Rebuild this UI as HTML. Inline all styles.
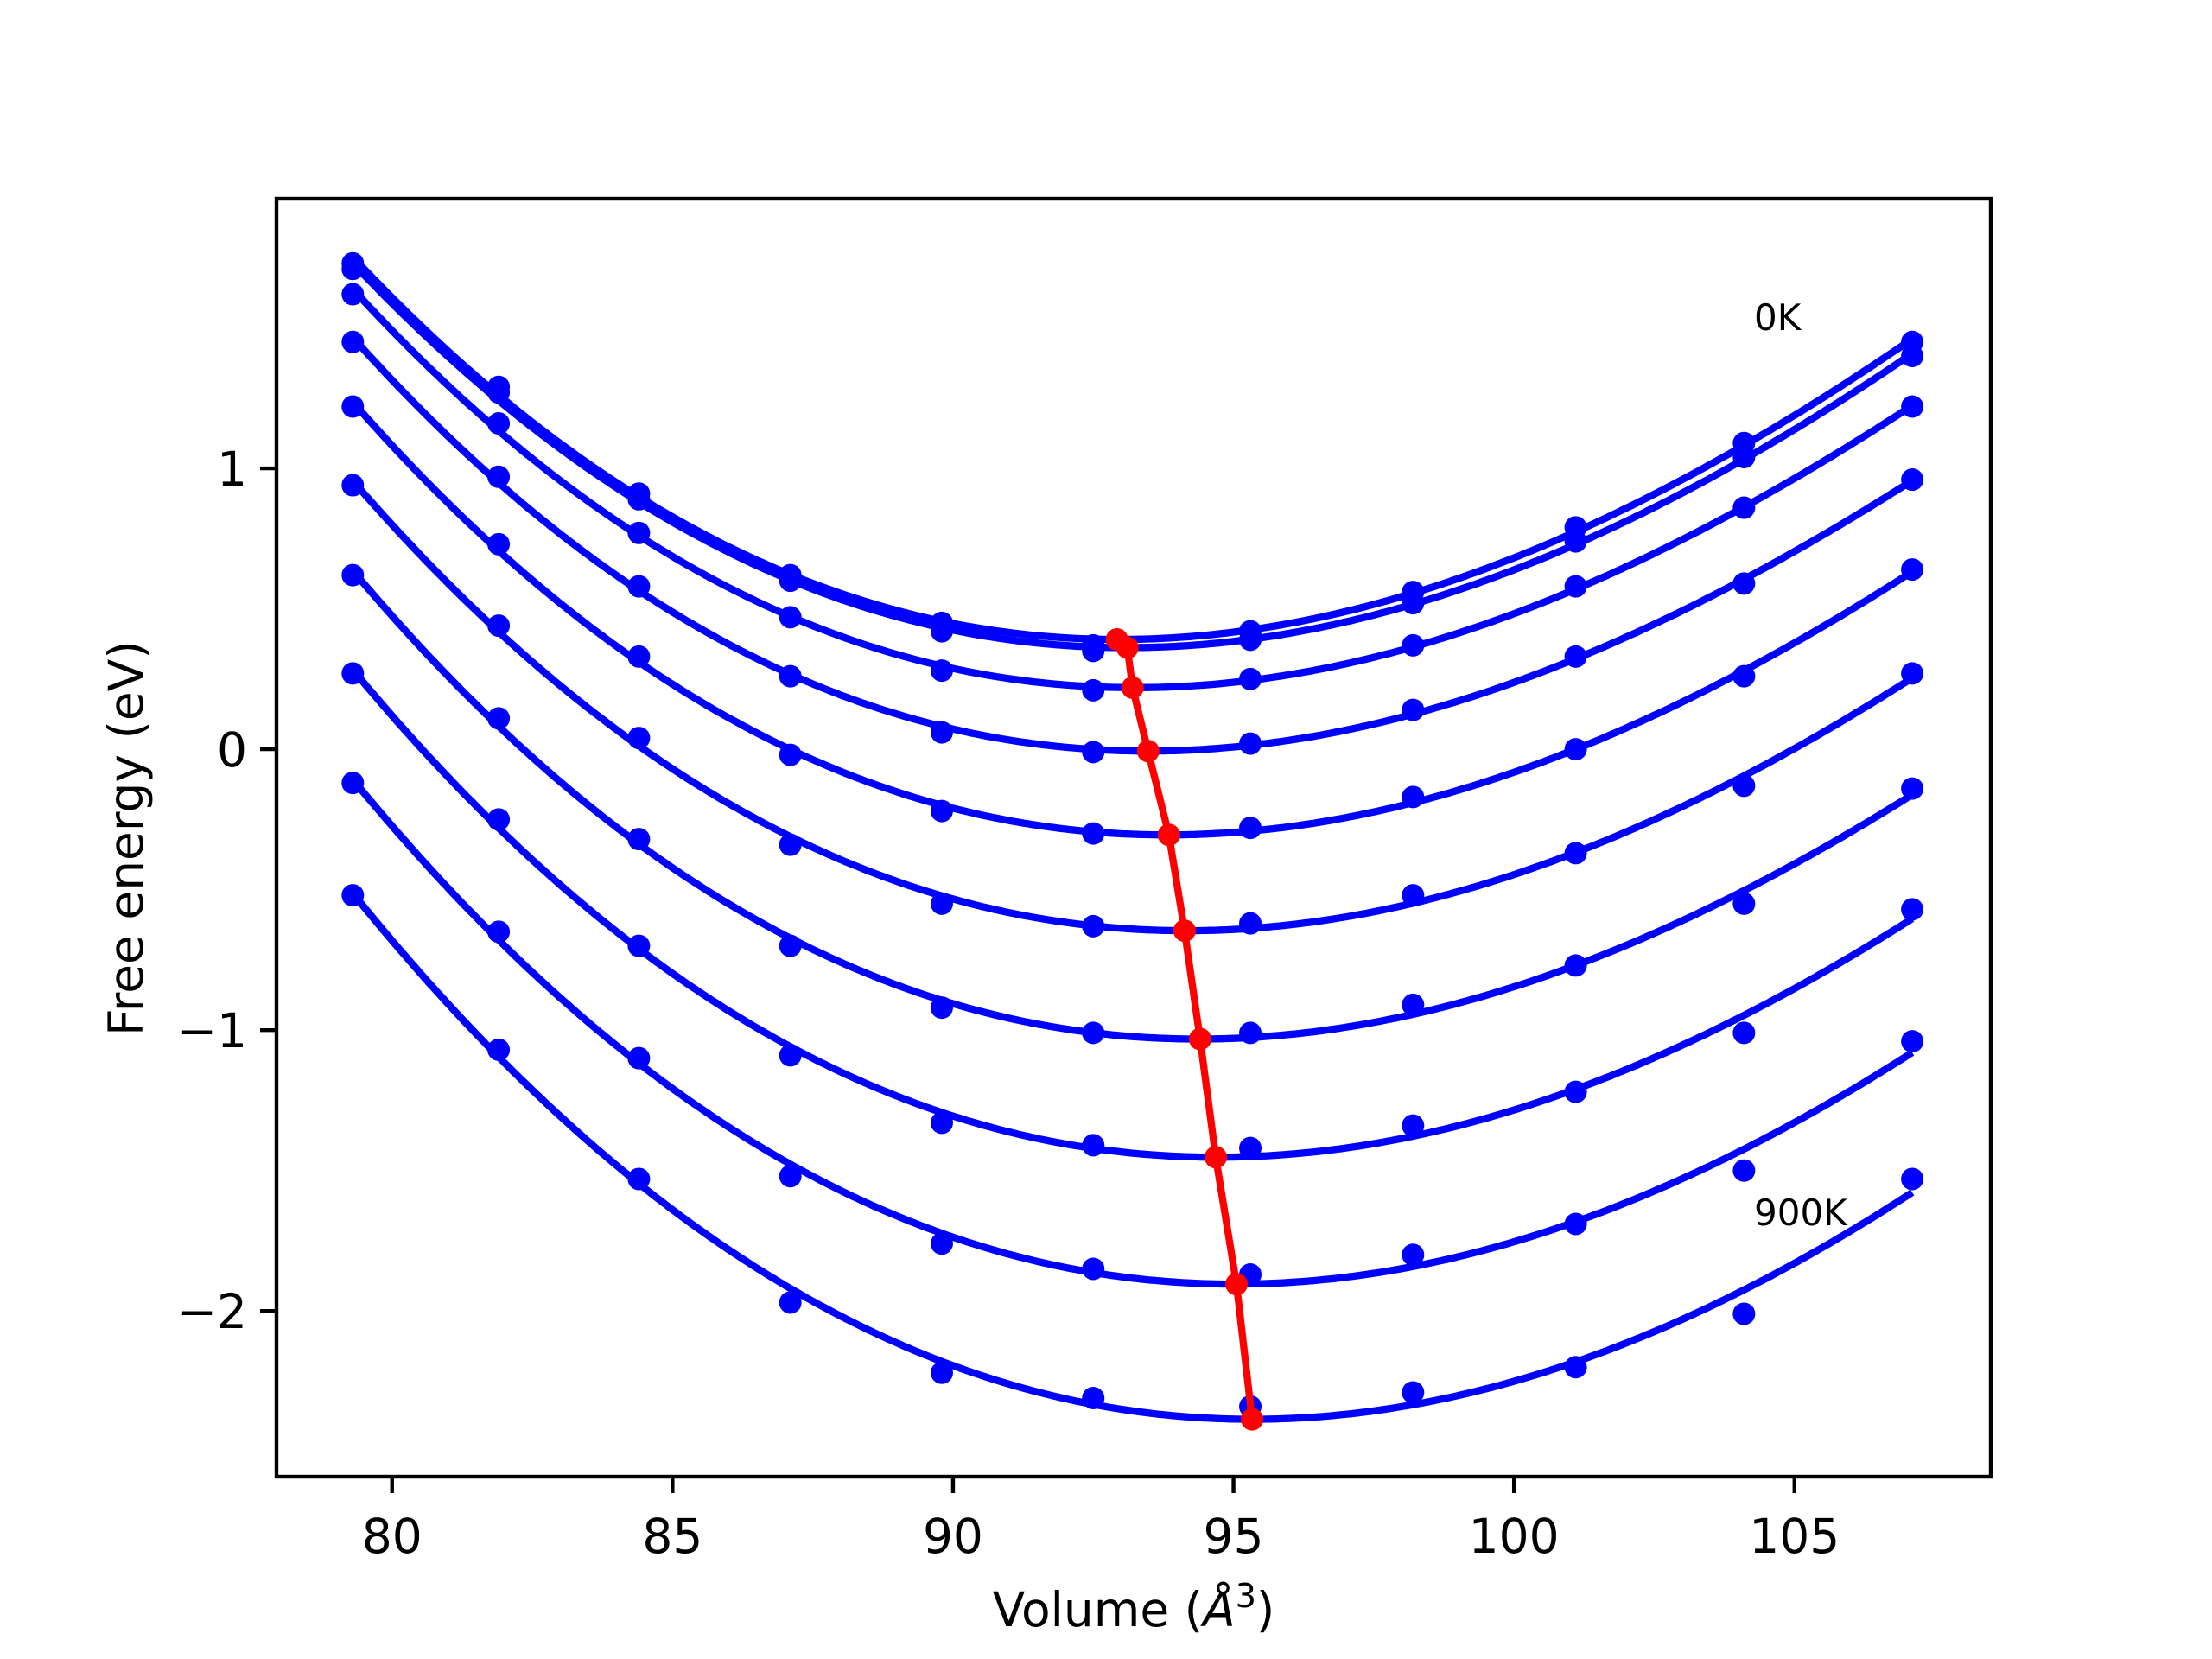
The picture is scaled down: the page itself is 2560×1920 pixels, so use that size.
<!DOCTYPE html>
<html><head><meta charset="utf-8"><style>
html,body{margin:0;padding:0;background:#fff;}
svg{display:block;font-family:"DejaVu Sans","Liberation Sans",sans-serif;}
</style></head><body>
<svg id="chart" width="2560" height="1920" viewBox="0 0 2560 1920" xmlns="http://www.w3.org/2000/svg">
<rect width="2560" height="1920" fill="#fff"/>
<g id="plot"></g>
<g id="axes"></g>
<text x="2030" y="382" font-size="42">0K</text>
<text x="2030" y="1418" font-size="42">900K</text>
<text x="1312" y="1882" font-size="55" text-anchor="middle">Volume (<tspan font-style="italic">Å</tspan><tspan font-size="38" dy="-22">3</tspan><tspan dy="22">)</tspan></text>
<text transform="translate(165,970) rotate(-90)" font-size="55" text-anchor="middle">Free energy (eV)</text>
</svg>
<script>
const volumes = [79.3, 81.9, 84.4, 87.1, 89.8, 92.5, 95.3, 98.2, 101.1, 104.1, 107.1];
const e0K   = [1.73, 1.29, 0.91, 0.62, 0.45, 0.37, 0.42, 0.56, 0.79, 1.09, 1.45];
const e100K = [1.71, 1.27, 0.89, 0.60, 0.42, 0.35, 0.39, 0.52, 0.74, 1.04, 1.40];
const e200K = [1.62, 1.16, 0.77, 0.47, 0.28, 0.21, 0.25, 0.37, 0.58, 0.86, 1.22];
const e300K = [1.45, 0.97, 0.58, 0.26, 0.06, -0.01, 0.02, 0.14, 0.33, 0.59, 0.96];
const e400K = [1.22, 0.73, 0.33, -0.02, -0.22, -0.30, -0.28, -0.17, 0.00, 0.26, 0.64];
const e500K = [0.94, 0.44, 0.04, -0.34, -0.55, -0.63, -0.62, -0.52, -0.37, -0.13, 0.27];
const e600K = [0.62, 0.11, -0.32, -0.70, -0.92, -1.01, -1.01, -0.91, -0.77, -0.55, -0.14];
const e700K = [0.27, -0.25, -0.70, -1.09, -1.33, -1.41, -1.42, -1.34, -1.22, -1.01, -0.57];
const e800K = [-0.12, -0.65, -1.10, -1.52, -1.76, -1.85, -1.87, -1.80, -1.69, -1.50, -1.04];
const e900K = [-0.52, -1.07, -1.53, -1.97, -2.22, -2.31, -2.34, -2.29, -2.20, -2.01, -1.53];
const seriesList = [e0K, e100K, e200K, e300K, e400K, e500K, e600K, e700K, e800K, e900K];
const xTicks = [80, 85, 90, 95, 100, 105];
const yTicks = [-2, -1, 0, 1];
const yTickLabels = ["\u22122", "\u22121", "0", "1"];

const L=320,R=2304,T=230,B=1709;
const X0=77.94,X1=108.5,Y0=-2.59,Y1=1.96;
const sx=v=>L+(v-X0)/(X1-X0)*(R-L);
const sy=v=>B-(v-Y0)/(Y1-Y0)*(B-T);
const NS="http://www.w3.org/2000/svg";
const plot=document.getElementById('plot'), axes=document.getElementById('axes');
function mk(tag,attrs,parent){const e=document.createElementNS(NS,tag);for(const k in attrs)e.setAttribute(k,attrs[k]);parent.appendChild(e);return e;}

function fitCubic(xs,ys){
  const n=4, m=[];const xm=93;
  for(let i=0;i<n;i++){m.push(new Array(n+1).fill(0));}
  xs.forEach((x,k)=>{const t=x-xm;const p=[1,t,t*t,t*t*t];
    for(let i=0;i<n;i++){for(let j=0;j<n;j++)m[i][j]+=p[i]*p[j];m[i][n]+=p[i]*ys[k];}});
  for(let i=0;i<n;i++){let piv=i;for(let r=i+1;r<n;r++)if(Math.abs(m[r][i])>Math.abs(m[piv][i]))piv=r;
    [m[i],m[piv]]=[m[piv],m[i]];
    for(let r=0;r<n;r++){if(r===i)continue;const f=m[r][i]/m[i][i];for(let c=i;c<=n;c++)m[r][c]-=f*m[i][c];}}
  const c=m.map((row,i)=>row[n]/row[i]);
  return x=>{const t=x-xm;return c[0]+c[1]*t+c[2]*t*t+c[3]*t*t*t;};
}

const minima=[];
seriesList.forEach((ys,si)=>{
  const f=fitCubic(volumes,ys);
  const a=volumes[0],b=volumes[volumes.length-1];
  let d="";let best=null;
  for(let i=0;i<=300;i++){const x=a+(b-a)*i/300;const y=f(x);d+=(i?"L":"M")+sx(x).toFixed(1)+","+sy(y).toFixed(1);
    if(!best||y<best[1])best=[x,y];}
  const p=mk('path',{d:d,fill:'none',stroke:'#0000ff','stroke-width':8.3},plot);
  
  
  minima.push(best);
  ys.forEach((y,i)=>{
    const c=mk('circle',{cx:sx(volumes[i]),cy:sy(y),r:13,fill:'#0000ff'},plot);
    
    
  });
});
const md=minima.map((p,i)=>(i?"L":"M")+sx(p[0]).toFixed(1)+","+sy(p[1]).toFixed(1)).join("");
const ml=mk('path',{d:md,fill:'none',stroke:'#ff0000','stroke-width':8.3},plot);


minima.forEach((p,i)=>{
  const c=mk('circle',{cx:sx(p[0]),cy:sy(p[1]),r:13,fill:'#ff0000'},plot);
  
  
});

const fr=mk('rect',{x:L,y:T,width:R-L,height:B-T,fill:'none',stroke:'#000','stroke-width':4.4},axes);


xTicks.forEach(v=>{
  const x=sx(v);
  const t=mk('line',{x1:x,x2:x,y1:B,y2:B+19,stroke:'#000','stroke-width':4.4},axes);
  
  
  const tx=mk('text',{x:x,y:B+88,'font-size':55,'text-anchor':'middle'},axes);
  tx.textContent=String(v);
  
  
});
yTicks.forEach((v,i)=>{
  const y=sy(v);
  const t=mk('line',{x1:L-19,x2:L,y1:y,y2:y,stroke:'#000','stroke-width':4.4},axes);
  
  
  const tx=mk('text',{x:L-34,y:y+20,'font-size':55,'text-anchor':'end'},axes);
  tx.textContent=yTickLabels[i];
  
  
});
</script>
</body></html>
